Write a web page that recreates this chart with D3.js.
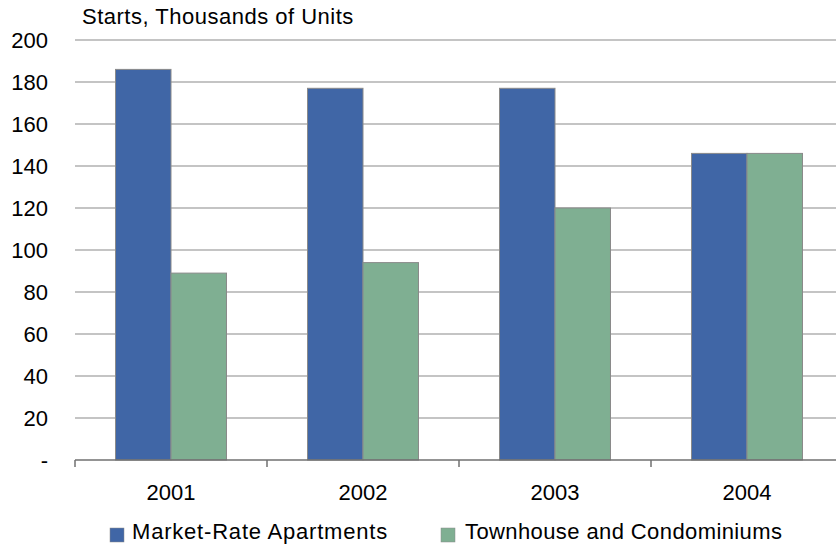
<!DOCTYPE html>
<html>
<head>
<meta charset="utf-8">
<script src="https://cdn.jsdelivr.net/npm/d3@7/dist/d3.min.js"></script>
<style>
  html, body { margin: 0; padding: 0; background: #fff; }
  svg { display: block; }
  text { font-family: "Liberation Sans", Arial, sans-serif; fill: #000; }
</style>
</head>
<body>
<svg id="chart" width="836" height="548"></svg>
<script>
// Housing starts by year, thousands of units
const years = ["2001", "2002", "2003", "2004"];
const seriesNames = ["Market-Rate Apartments", "Townhouse and Condominiums"];
const marketRate = [186, 177, 177, 146];
const townhouseCondo = [89, 94, 120, 146];
const yTicks = [0, 20, 40, 60, 80, 100, 120, 140, 160, 180, 200];
const colors = ["#4066a6", "#7faf92"];

const svg = d3.select("#chart");
const plotLeft = 75, plotRight = 843, plotTop = 40, plotBottom = 460;

const x = d3.scaleBand().domain(years).range([plotLeft, plotRight]).paddingInner(0).paddingOuter(0);
const inner = d3.scaleBand().domain(seriesNames).range([0, x.bandwidth()])
  .paddingInner(0).paddingOuter(0.73);
const y = d3.scaleLinear().domain([0, 200]).range([plotBottom, plotTop]);

// Gridlines
svg.append("g")
  .selectAll("line")
  .data(yTicks.filter(d => d > 0))
  .join("line")
  .attr("x1", plotLeft).attr("x2", 836)
  .attr("y1", d => y(d)).attr("y2", d => y(d))
  .attr("stroke", "#b0b0b0").attr("stroke-width", 1.5);

// Y tick labels
svg.append("g")
  .selectAll("text")
  .data(yTicks)
  .join("text")
  .attr("x", 48)
  .attr("y", d => y(d) + 8)
  .attr("text-anchor", "end")
  .attr("font-size", 22)
  .text(d => d === 0 ? "-" : d);

// Bars
const rows = years.map((yr, i) => ({ year: yr, values: [marketRate[i], townhouseCondo[i]] }));
const groups = svg.append("g").selectAll("g")
  .data(rows)
  .join("g")
  .attr("transform", d => `translate(${x(d.year)},0)`);
groups.selectAll("rect")
  .data(d => d.values.map((v, k) => ({ name: seriesNames[k], value: v, k })))
  .join("rect")
  .attr("x", d => inner(d.name))
  .attr("width", inner.bandwidth())
  .attr("y", d => y(d.value))
  .attr("height", d => y(0) - y(d.value))
  .attr("fill", d => colors[d.k])
  .attr("stroke", "#8a8a8a")
  .attr("stroke-width", 1);

// X axis
const xAxis = svg.append("g").attr("transform", `translate(0,${plotBottom})`);
xAxis.append("line")
  .attr("x1", plotLeft).attr("x2", 836)
  .attr("stroke", "#707070").attr("stroke-width", 1.5);
xAxis.selectAll("line.tick")
  .data(years)
  .join("line")
  .attr("class", "tick")
  .attr("x1", d => x(d)).attr("x2", d => x(d))
  .attr("y1", 0).attr("y2", 7)
  .attr("stroke", "#707070").attr("stroke-width", 1.5);
xAxis.selectAll("text")
  .data(years)
  .join("text")
  .attr("x", d => x(d) + x.bandwidth() / 2)
  .attr("y", 40)
  .attr("text-anchor", "middle")
  .attr("font-size", 22)
  .text(d => d);

// Axis title
svg.append("text")
  .attr("x", 82).attr("y", 24)
  .attr("font-size", 22)
  .attr("letter-spacing", 0.5)
  .text("Starts, Thousands of Units");

// Legend
const legendX = [110, 441];
const legend = svg.append("g").selectAll("g")
  .data(seriesNames)
  .join("g")
  .attr("transform", (d, i) => `translate(${legendX[i]},528)`);
legend.append("rect")
  .attr("width", 14).attr("height", 14)
  .attr("fill", (d, i) => colors[i])
  .attr("stroke", "#8a8a8a").attr("stroke-width", 0.5);
legend.append("text")
  .attr("x", (d, i) => i === 0 ? 22 : 24).attr("y", 11)
  .attr("font-size", 22)
  .attr("letter-spacing", (d, i) => i === 0 ? 0.8 : 0.4)
  .text(d => d);
</script>
</body>
</html>
